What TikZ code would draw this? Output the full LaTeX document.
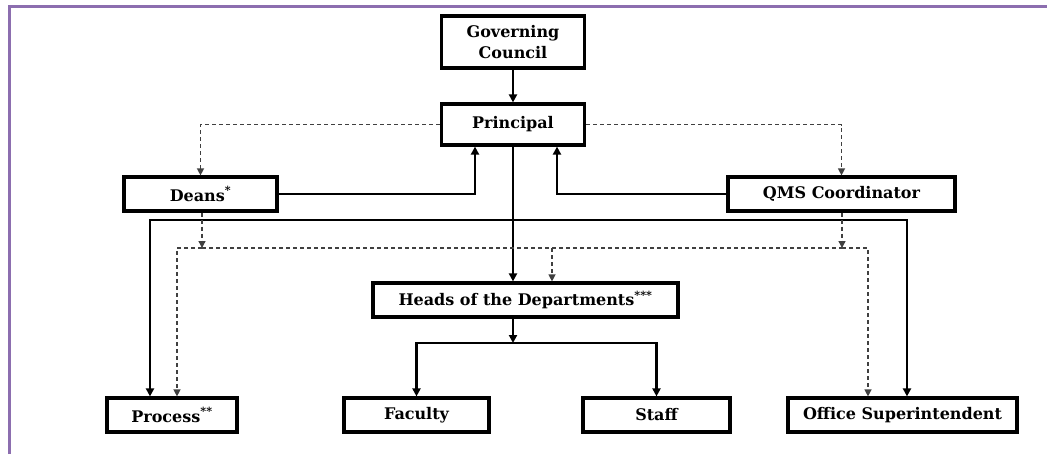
\documentclass[tikz,border=0pt]{standalone}
\usepackage{fontspec}
\setmainfont{DejaVu Serif}
\usetikzlibrary{arrows.meta, positioning, calc}
\definecolor{framepurple}{RGB}{140,110,175}

\begin{document}
\begin{tikzpicture}[x=1pt, y=-1pt,
  box/.style={draw, line width=3.2pt, font=\bfseries\fontsize{16}{21}\selectfont,
    minimum height=34pt, inner sep=0pt, align=center},
  link/.style={line width=2.7pt, -{Triangle[length=8pt,width=8pt]}},
  dotlink/.style={line width=1.3pt, draw=black!75, dash pattern=on 4pt off 3pt,
    -{Triangle[length=7pt,width=7pt]}}]
\useasboundingbox (0,0) rectangle (1047,459);
% Frame
\draw[framepurple, line width=3pt] (9,454) -- (9,6) -- (1047,6);

% Governing council and principal
\node[box, minimum width=143pt, minimum height=52pt] (council) at (513,42) {Governing\\Council};
\node[box, minimum width=143pt, minimum height=41pt] (principal) at (513,124.5) {Principal};
\draw[link] (council) -- (principal);

% Deans and QMS coordinator
\node[box, minimum width=153pt] (deans) at (200.5,194) {Deans\textsuperscript{*}};
\node[box, minimum width=227pt] (qms) at (841.5,194) {QMS Coordinator};
\draw[link] (deans.east) -| ([xshift=-38pt]principal.south);
\draw[link] (qms.west) -| ([xshift=44pt]principal.south);
\draw[dotlink] (principal.west) -| (deans.north);
\draw[dotlink] (principal.east) -| (qms.north);

% Heads of the departments
\node[box, minimum width=305pt] (heads) at (525.5,300) {Heads of the Departments\textsuperscript{***}};
\draw[link] (principal.south) -- (principal.south |- heads.north);

% Bottom row
\node[box, minimum width=130pt] (process) at (172,415) {Process\textsuperscript{**}};
\node[box, minimum width=145pt] (faculty) at (416.5,415) {Faculty};
\node[box, minimum width=147pt] (staff) at (656.5,415) {Staff};
\node[box, minimum width=229pt] (office) at (902.5,415) {Office Superintendent};

% Solid branch to process and office
\coordinate (split) at (513,220);
\draw[link] (split) -| ([xshift=-22pt]process.north);
\draw[link] (split) -| ([xshift=4.5pt]office.north);

% Dashed bus
\coordinate (dbus) at (202,248);
\coordinate (qbus) at (842,248);
\draw[dotlink] (dbus |- deans.south) -- (dbus);
\draw[dotlink] (qbus |- qms.south) -- (qbus);
\draw[dotlink, -] (dbus) -- (qbus);
\draw[dotlink] (dbus) -| ([xshift=5pt]process.north);
\draw[dotlink] (qbus) -| ([xshift=-34.5pt]office.north);
\draw[dotlink] ([xshift=26.5pt]heads.north |- dbus) -- ([xshift=26.5pt]heads.north);

% Heads to faculty and staff
\coordinate (hsplit) at (513,343);
\draw[link] (principal.south |- heads.south) -- (hsplit);
\draw[link] (hsplit) -| (faculty.north);
\draw[link] (hsplit) -| (staff.north);
\end{tikzpicture}
\end{document}
